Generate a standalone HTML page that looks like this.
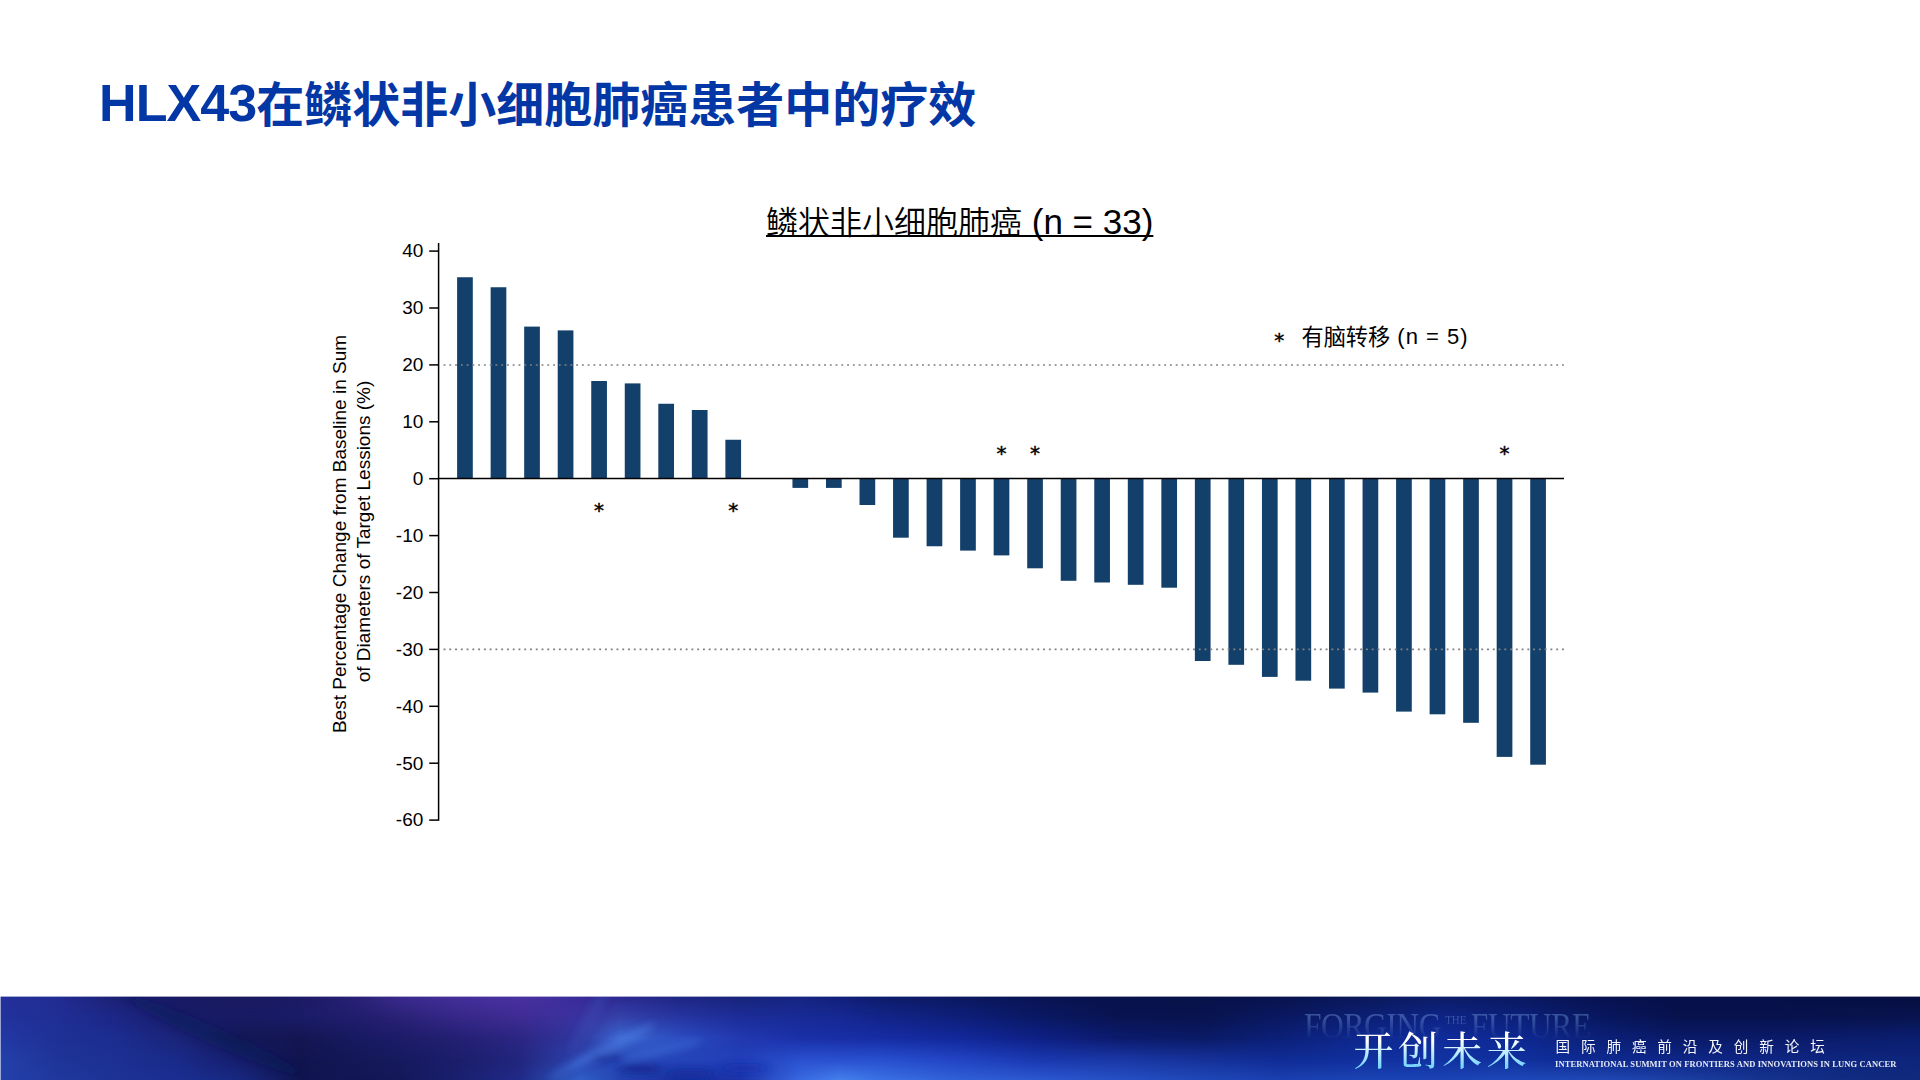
<!DOCTYPE html>
<html lang="zh-CN">
<head>
<meta charset="utf-8">
<title>HLX43在鳞状非小细胞肺癌患者中的疗效</title>
<style>
html,body{margin:0;padding:0;}
body{width:1920px;height:1080px;position:relative;overflow:hidden;background:#fff;font-family:"Liberation Sans","Noto Sans CJK SC",sans-serif;color:#000;}
.abs{position:absolute;white-space:nowrap;}
#title{left:99px;top:70.5px;font-size:48px;line-height:70px;font-weight:700;color:#0437a6;}
#title .lat{font-size:52px;letter-spacing:-0.9px;position:relative;top:-0.6px;line-height:50px;}
#sub{left:766px;top:199.5px;font-size:32px;line-height:46px;font-weight:350;text-decoration:underline;text-decoration-thickness:2px;text-underline-offset:1.3px;text-decoration-skip-ink:none;}
#sub .lat{font-size:35px;letter-spacing:0;line-height:30px;}
#legend{left:1301.5px;top:322.8px;font-size:22.2px;line-height:30px;font-weight:400;}
#legend .lat{font-size:22px;letter-spacing:1px;position:relative;top:-1px;}
#chart{position:absolute;left:0;top:0;}
#footer{position:absolute;left:0;top:996px;width:1920px;height:84px;background:#12247e;overflow:hidden;}
#footer svg{position:absolute;left:0;top:0;}
#forging{left:1304px;top:4px;font-family:"Liberation Serif",serif;font-size:36px;line-height:40px;color:rgba(120,160,225,0.42);letter-spacing:-0.5px;transform:scaleX(0.875);transform-origin:0 0;-webkit-mask-image:linear-gradient(to bottom,#000 0%,#000 38%,transparent 86%);mask-image:linear-gradient(to bottom,#000 0%,#000 38%,transparent 86%);}
#forging .the{font-size:12.5px;vertical-align:14px;letter-spacing:0;margin:0 1.9px 0 1.9px;white-space:pre;}
#kcwl{left:1353.5px;top:27px;font-family:"Noto Serif CJK SC",serif;font-weight:500;font-size:40px;line-height:50px;letter-spacing:4.4px;background:linear-gradient(to bottom,#ffffff 35%,#7ad6fc 85%);-webkit-background-clip:text;background-clip:text;color:transparent;}
#cn{left:1555.5px;top:40px;font-size:14.6px;line-height:20px;letter-spacing:10.87px;color:#f4f6fc;font-family:"Noto Sans CJK SC",sans-serif;font-weight:400;}
#en{left:1555px;top:61.3px;font-family:"Liberation Serif",serif;font-weight:700;font-size:8.5px;line-height:14px;color:#e6eaf7;letter-spacing:0.115px;}
</style>
</head>
<body>
<div id="title" class="abs"><span class="lat">HLX43</span>在鳞状非小细胞肺癌患者中的疗效</div>
<div id="sub" class="abs">鳞状非小细胞肺癌<span class="lat"> (n = 33)</span></div>
<svg id="chart" width="1920" height="996" viewBox="0 0 1920 996">
<g fill="#13406b">
<rect x="457.10" y="277.25" width="15.7" height="201.30"/>
<rect x="490.63" y="287.25" width="15.7" height="191.30"/>
<rect x="524.17" y="326.60" width="15.7" height="151.95"/>
<rect x="557.71" y="330.40" width="15.7" height="148.15"/>
<rect x="591.24" y="381.00" width="15.7" height="97.55"/>
<rect x="624.77" y="383.40" width="15.7" height="95.15"/>
<rect x="658.31" y="403.75" width="15.7" height="74.80"/>
<rect x="691.85" y="410.00" width="15.7" height="68.55"/>
<rect x="725.38" y="439.75" width="15.7" height="38.80"/>
<rect x="792.45" y="478.55" width="15.7" height="9.35"/>
<rect x="825.99" y="478.55" width="15.7" height="9.35"/>
<rect x="859.52" y="478.55" width="15.7" height="26.45"/>
<rect x="893.05" y="478.55" width="15.7" height="59.15"/>
<rect x="926.59" y="478.55" width="15.7" height="67.70"/>
<rect x="960.12" y="478.55" width="15.7" height="72.05"/>
<rect x="993.66" y="478.55" width="15.7" height="76.85"/>
<rect x="1027.19" y="478.55" width="15.7" height="89.75"/>
<rect x="1060.73" y="478.55" width="15.7" height="102.25"/>
<rect x="1094.26" y="478.55" width="15.7" height="103.95"/>
<rect x="1127.80" y="478.55" width="15.7" height="106.25"/>
<rect x="1161.34" y="478.55" width="15.7" height="109.15"/>
<rect x="1194.87" y="478.55" width="15.7" height="182.45"/>
<rect x="1228.40" y="478.55" width="15.7" height="186.25"/>
<rect x="1261.94" y="478.55" width="15.7" height="198.35"/>
<rect x="1295.47" y="478.55" width="15.7" height="202.15"/>
<rect x="1329.01" y="478.55" width="15.7" height="210.05"/>
<rect x="1362.55" y="478.55" width="15.7" height="214.05"/>
<rect x="1396.08" y="478.55" width="15.7" height="233.05"/>
<rect x="1429.61" y="478.55" width="15.7" height="235.75"/>
<rect x="1463.15" y="478.55" width="15.7" height="244.25"/>
<rect x="1496.68" y="478.55" width="15.7" height="278.35"/>
<rect x="1530.22" y="478.55" width="15.7" height="286.15"/>
</g>
<g stroke="#808080" stroke-width="1.7" stroke-dasharray="1.9 3.865">
<line x1="443.55" y1="365" x2="1564.2" y2="365"/>
<line x1="443.55" y1="649.35" x2="1564.2" y2="649.35"/>
</g>
<g stroke="#000" stroke-width="1.5">
<line x1="438.6" y1="243" x2="438.6" y2="820.8"/>
<line x1="438" y1="478.55" x2="1564" y2="478.55"/>
<line x1="429.2" y1="251.1" x2="438.6" y2="251.1"/>
<line x1="429.2" y1="308.0" x2="438.6" y2="308.0"/>
<line x1="429.2" y1="364.9" x2="438.6" y2="364.9"/>
<line x1="429.2" y1="421.8" x2="438.6" y2="421.8"/>
<line x1="429.2" y1="478.7" x2="438.6" y2="478.7"/>
<line x1="429.2" y1="535.6" x2="438.6" y2="535.6"/>
<line x1="429.2" y1="592.5" x2="438.6" y2="592.5"/>
<line x1="429.2" y1="649.4" x2="438.6" y2="649.4"/>
<line x1="429.2" y1="706.3" x2="438.6" y2="706.3"/>
<line x1="429.2" y1="763.2" x2="438.6" y2="763.2"/>
<line x1="429.2" y1="820.1" x2="438.6" y2="820.1"/>
</g>
<g font-family="'Liberation Sans',sans-serif" font-size="19" text-anchor="end" fill="#000">
<text x="423.3" y="257.4">40</text>
<text x="423.3" y="314.3">30</text>
<text x="423.3" y="371.2">20</text>
<text x="423.3" y="428.1">10</text>
<text x="423.3" y="485.0">0</text>
<text x="423.3" y="541.9">-10</text>
<text x="423.3" y="598.8">-20</text>
<text x="423.3" y="655.7">-30</text>
<text x="423.3" y="712.6">-40</text>
<text x="423.3" y="769.5">-50</text>
<text x="423.3" y="826.4">-60</text>
</g>
<g font-family="'Liberation Sans',sans-serif" font-size="19" text-anchor="middle" fill="#000">
<text transform="translate(346,534) rotate(-90)">Best Percentage Change from Baseline in Sum</text>
<text transform="translate(369.8,531.5) rotate(-90)">of Diameters of Target Lessions (%)</text>
</g>
<g font-family="'DejaVu Sans','Liberation Sans',sans-serif" font-size="20" text-anchor="middle" fill="#000" stroke="#000" stroke-width="0.45">
<text x="599.1" y="517.3">*</text>
<text x="733.2" y="517.3">*</text>
<text x="1001.5" y="460.4">*</text>
<text x="1035.0" y="460.4">*</text>
<text x="1504.5" y="460.4">*</text>
<text x="1279.2" y="347.2">*</text>
</g>
</svg>
<div id="legend" class="abs">有脑转移<span class="lat"> (n = 5)</span></div>
<div id="footer">
<svg width="1920" height="84" viewBox="0 0 1920 84">
<defs>
<linearGradient id="r0" x1="0" y1="0" x2="1" y2="0"><stop offset="0.0000" stop-color="#24309a"/><stop offset="0.0312" stop-color="#222c92"/><stop offset="0.0625" stop-color="#1a2070"/><stop offset="0.0938" stop-color="#181a62"/><stop offset="0.1250" stop-color="#1a1a60"/><stop offset="0.1562" stop-color="#1c1a64"/><stop offset="0.1875" stop-color="#2a2278"/><stop offset="0.2083" stop-color="#3c2a8e"/><stop offset="0.2396" stop-color="#44309a"/><stop offset="0.2708" stop-color="#4a32a2"/><stop offset="0.3021" stop-color="#3a2c98"/><stop offset="0.3229" stop-color="#2c2890"/><stop offset="0.3542" stop-color="#1e2682"/><stop offset="0.3854" stop-color="#182478"/><stop offset="0.4167" stop-color="#162480"/><stop offset="0.4375" stop-color="#121f78"/><stop offset="0.4583" stop-color="#0e1c6a"/><stop offset="0.5000" stop-color="#0b185e"/><stop offset="0.5417" stop-color="#091452"/><stop offset="0.5833" stop-color="#07124a"/><stop offset="0.6250" stop-color="#071248"/><stop offset="0.6667" stop-color="#08144e"/><stop offset="0.7083" stop-color="#0a1858"/><stop offset="0.7500" stop-color="#0c1c66"/><stop offset="0.7917" stop-color="#0a1860"/><stop offset="0.8333" stop-color="#071250"/><stop offset="0.8750" stop-color="#061048"/><stop offset="0.9167" stop-color="#061048"/><stop offset="0.9583" stop-color="#061046"/><stop offset="1.0000" stop-color="#060e40"/></linearGradient>
<linearGradient id="r1" x1="0" y1="0" x2="1" y2="0"><stop offset="0.0000" stop-color="#22329c"/><stop offset="0.0312" stop-color="#202e94"/><stop offset="0.0625" stop-color="#1c2684"/><stop offset="0.0938" stop-color="#181c68"/><stop offset="0.1250" stop-color="#181a62"/><stop offset="0.1562" stop-color="#1a1c68"/><stop offset="0.1875" stop-color="#221e6e"/><stop offset="0.2083" stop-color="#2a2278"/><stop offset="0.2396" stop-color="#38288a"/><stop offset="0.2708" stop-color="#402c94"/><stop offset="0.3021" stop-color="#3a32a0"/><stop offset="0.3229" stop-color="#3440a8"/><stop offset="0.3542" stop-color="#2634a0"/><stop offset="0.3854" stop-color="#1c2c98"/><stop offset="0.4167" stop-color="#182a94"/><stop offset="0.4375" stop-color="#162892"/><stop offset="0.4583" stop-color="#122488"/><stop offset="0.5000" stop-color="#0e1e78"/><stop offset="0.5417" stop-color="#0a1862"/><stop offset="0.5833" stop-color="#081450"/><stop offset="0.6250" stop-color="#08144e"/><stop offset="0.6667" stop-color="#0a1860"/><stop offset="0.7083" stop-color="#0c1e72"/><stop offset="0.7500" stop-color="#0e2484"/><stop offset="0.7917" stop-color="#0c2078"/><stop offset="0.8333" stop-color="#08175e"/><stop offset="0.8750" stop-color="#07124c"/><stop offset="0.9167" stop-color="#07124c"/><stop offset="0.9583" stop-color="#07134c"/><stop offset="1.0000" stop-color="#08144e"/></linearGradient>
<linearGradient id="m1" x1="0" y1="0" x2="0" y2="1"><stop offset="0.0000" stop-color="#000"/><stop offset="0.2381" stop-color="#fff"/></linearGradient>
<mask id="k1" maskUnits="userSpaceOnUse" x="0" y="0" width="1920" height="84"><rect x="0" y="0" width="1920" height="84" fill="url(#m1)"/></mask>
<linearGradient id="r2" x1="0" y1="0" x2="1" y2="0"><stop offset="0.0000" stop-color="#2238a4"/><stop offset="0.0312" stop-color="#1e3096"/><stop offset="0.0625" stop-color="#1c2c8e"/><stop offset="0.0938" stop-color="#1a2478"/><stop offset="0.1250" stop-color="#141858"/><stop offset="0.1562" stop-color="#141652"/><stop offset="0.1875" stop-color="#181a62"/><stop offset="0.2083" stop-color="#1c1c68"/><stop offset="0.2396" stop-color="#242074"/><stop offset="0.2708" stop-color="#2c2684"/><stop offset="0.3021" stop-color="#3038a0"/><stop offset="0.3229" stop-color="#3c68d0"/><stop offset="0.3542" stop-color="#2c4cc0"/><stop offset="0.3854" stop-color="#2238b0"/><stop offset="0.4167" stop-color="#1a30a8"/><stop offset="0.4375" stop-color="#182ea6"/><stop offset="0.4583" stop-color="#162ca4"/><stop offset="0.5000" stop-color="#12289a"/><stop offset="0.5417" stop-color="#0e2084"/><stop offset="0.5833" stop-color="#0c1a6c"/><stop offset="0.6250" stop-color="#0a1a66"/><stop offset="0.6667" stop-color="#0c2078"/><stop offset="0.7083" stop-color="#0e288e"/><stop offset="0.7500" stop-color="#102c9a"/><stop offset="0.7917" stop-color="#0e2890"/><stop offset="0.8333" stop-color="#0b2078"/><stop offset="0.8750" stop-color="#0a1a68"/><stop offset="0.9167" stop-color="#0a1a68"/><stop offset="0.9583" stop-color="#0b1c6c"/><stop offset="1.0000" stop-color="#0b1e70"/></linearGradient>
<linearGradient id="m2" x1="0" y1="0" x2="0" y2="1"><stop offset="0.2381" stop-color="#000"/><stop offset="0.5000" stop-color="#fff"/></linearGradient>
<mask id="k2" maskUnits="userSpaceOnUse" x="0" y="0" width="1920" height="84"><rect x="0" y="0" width="1920" height="84" fill="url(#m2)"/></mask>
<linearGradient id="r3" x1="0" y1="0" x2="1" y2="0"><stop offset="0.0000" stop-color="#2440aa"/><stop offset="0.0312" stop-color="#1e3498"/><stop offset="0.0625" stop-color="#1c3092"/><stop offset="0.0938" stop-color="#1a2a88"/><stop offset="0.1250" stop-color="#161e6c"/><stop offset="0.1562" stop-color="#10144e"/><stop offset="0.1875" stop-color="#141858"/><stop offset="0.2083" stop-color="#161a5e"/><stop offset="0.2396" stop-color="#1c1e6c"/><stop offset="0.2708" stop-color="#22267e"/><stop offset="0.3021" stop-color="#2c44b0"/><stop offset="0.3229" stop-color="#2848b8"/><stop offset="0.3542" stop-color="#2444b8"/><stop offset="0.3854" stop-color="#2240b8"/><stop offset="0.4167" stop-color="#2a50d0"/><stop offset="0.4375" stop-color="#2a50d0"/><stop offset="0.4583" stop-color="#2850d0"/><stop offset="0.5000" stop-color="#2244c4"/><stop offset="0.5417" stop-color="#1a38b0"/><stop offset="0.5833" stop-color="#1a38a6"/><stop offset="0.6250" stop-color="#16329a"/><stop offset="0.6667" stop-color="#102c96"/><stop offset="0.7083" stop-color="#10309e"/><stop offset="0.7500" stop-color="#1232a2"/><stop offset="0.7917" stop-color="#10309e"/><stop offset="0.8333" stop-color="#0e2a90"/><stop offset="0.8750" stop-color="#0e2688"/><stop offset="0.9167" stop-color="#0e2684"/><stop offset="0.9583" stop-color="#0e2680"/><stop offset="1.0000" stop-color="#0e267c"/></linearGradient>
<linearGradient id="m3" x1="0" y1="0" x2="0" y2="1"><stop offset="0.5000" stop-color="#000"/><stop offset="0.7619" stop-color="#fff"/></linearGradient>
<mask id="k3" maskUnits="userSpaceOnUse" x="0" y="0" width="1920" height="84"><rect x="0" y="0" width="1920" height="84" fill="url(#m3)"/></mask>
<linearGradient id="r4" x1="0" y1="0" x2="1" y2="0"><stop offset="0.0000" stop-color="#2440aa"/><stop offset="0.0312" stop-color="#20389e"/><stop offset="0.0625" stop-color="#1c3294"/><stop offset="0.0938" stop-color="#1a2e90"/><stop offset="0.1250" stop-color="#182880"/><stop offset="0.1562" stop-color="#101650"/><stop offset="0.1875" stop-color="#121654"/><stop offset="0.2083" stop-color="#14185a"/><stop offset="0.2396" stop-color="#1a2070"/><stop offset="0.2708" stop-color="#202a88"/><stop offset="0.3021" stop-color="#3060c8"/><stop offset="0.3229" stop-color="#2444b0"/><stop offset="0.3542" stop-color="#1c30a0"/><stop offset="0.3854" stop-color="#1c34a8"/><stop offset="0.4167" stop-color="#3868e0"/><stop offset="0.4375" stop-color="#4480ec"/><stop offset="0.4583" stop-color="#3a70e4"/><stop offset="0.5000" stop-color="#3060d8"/><stop offset="0.5417" stop-color="#2c58d0"/><stop offset="0.5833" stop-color="#2650c4"/><stop offset="0.6250" stop-color="#2048b8"/><stop offset="0.6667" stop-color="#1a40b0"/><stop offset="0.7083" stop-color="#1c44b4"/><stop offset="0.7500" stop-color="#1c44b4"/><stop offset="0.7917" stop-color="#1e48b8"/><stop offset="0.8333" stop-color="#2048b4"/><stop offset="0.8750" stop-color="#1c40a4"/><stop offset="0.9167" stop-color="#16348e"/><stop offset="0.9583" stop-color="#112c82"/><stop offset="1.0000" stop-color="#10297c"/></linearGradient>
<linearGradient id="m4" x1="0" y1="0" x2="0" y2="1"><stop offset="0.7619" stop-color="#000"/><stop offset="1.0000" stop-color="#fff"/></linearGradient>
<mask id="k4" maskUnits="userSpaceOnUse" x="0" y="0" width="1920" height="84"><rect x="0" y="0" width="1920" height="84" fill="url(#m4)"/></mask>
<filter id="sb" x="-50%" y="-50%" width="200%" height="200%"><feGaussianBlur stdDeviation="3.5"/></filter>
</defs>
<rect x="0" y="0" width="1920" height="84" fill="url(#r0)"/>
<rect x="0" y="0" width="1920" height="84" fill="url(#r1)" mask="url(#k1)"/>
<rect x="0" y="0" width="1920" height="84" fill="url(#r2)" mask="url(#k2)"/>
<rect x="0" y="0" width="1920" height="84" fill="url(#r3)" mask="url(#k3)"/>
<rect x="0" y="0" width="1920" height="84" fill="url(#r4)" mask="url(#k4)"/>
<g filter="url(#sb)">
<ellipse cx="612" cy="50" rx="48" ry="5" transform="rotate(-27 612 50)" fill="#4a7be0" opacity="0.55"/>
<ellipse cx="662" cy="54" rx="42" ry="4.5" transform="rotate(-14 662 54)" fill="#4272da" opacity="0.45"/>
<ellipse cx="575" cy="68" rx="30" ry="4" transform="rotate(-30 575 68)" fill="#3d6cd6" opacity="0.5"/>
<ellipse cx="640" cy="73" rx="22" ry="4.5" fill="#14248a" opacity="0.75"/>
<ellipse cx="608" cy="62" rx="16" ry="3.5" fill="#16288e" opacity="0.6"/>
<ellipse cx="690" cy="78" rx="26" ry="4" fill="#16269a" opacity="0.7"/>
<ellipse cx="745" cy="72" rx="26" ry="4" fill="#1426a8" opacity="0.55"/>
<ellipse cx="590" cy="22" rx="40" ry="6" transform="rotate(-60 590 22)" fill="#3a4cb4" opacity="0.35"/>
<ellipse cx="215" cy="40" rx="95" ry="9" transform="rotate(24 215 40)" fill="#0f1450" opacity="0.3"/>
</g>
<rect x="0" y="0" width="1920" height="0.6" fill="#fff"/>
<rect x="0" y="0" width="0.55" height="84" fill="#fff"/>
</svg>
<div id="forging" class="abs">FORGING<span class="the"> THE </span>FUTURE</div>
<div id="kcwl" class="abs">开创未来</div>
<div id="cn" class="abs">国际肺癌前沿及创新论坛</div>
<div id="en" class="abs">INTERNATIONAL SUMMIT ON FRONTIERS AND INNOVATIONS IN LUNG CANCER</div>
</div>
</body>
</html>
